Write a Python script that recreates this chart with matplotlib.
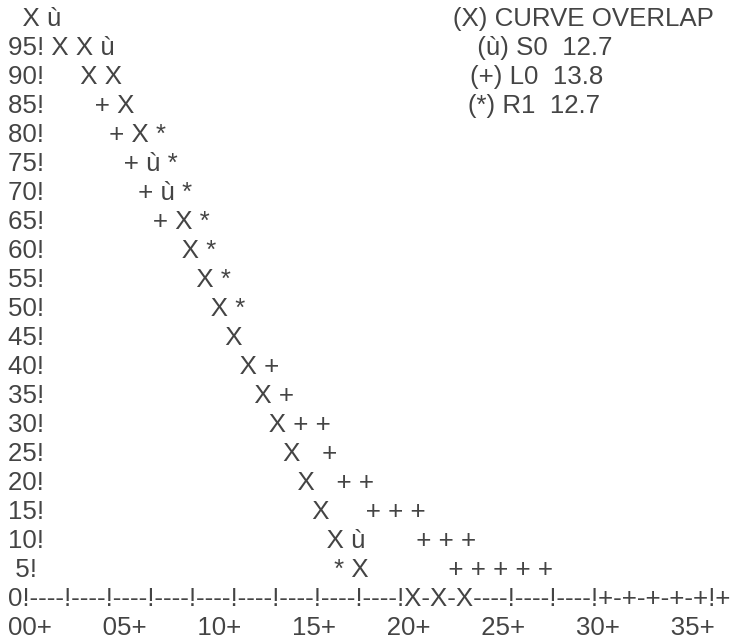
import matplotlib
matplotlib.use("Agg")
import matplotlib.pyplot as plt

# ---------------- data ----------------
x_values = list(range(39))
series_names = ["S0", "L0", "R1"]
series_symbols = ["ù", "+", "*"]
series_medians = [12.7, 13.8, 12.7]
s0_values = [100, 100, 95, 95, 90, 85, 80, 75, 70, 65, 60, 55, 50, 45, 40, 35, 30,
             25, 20, 15, 10, 10, 5, 0, 0, 0]
l0_values = [100, 95, 95, 90, 85, 80, 75, 70, 65, 65, 60, 55, 50, 45, 40, 40, 35,
             30, 30, 25, 20, 20, 15, 15, 15, 10, 10, 10, 5, 5, 5, 5, 5, 0, 0, 0, 0, 0, 0]
r1_values = [100, 95, 95, 90, 90, 85, 80, 80, 75, 70, 65, 60, 55, 50, 40, 35, 30,
             25, 20, 15, 10, 5, 5, 0, 0, 0]
overlap_symbol = "X"
overlap_label = "CURVE OVERLAP"
y_levels = list(range(100, -1, -5))
x_tick_values = list(range(0, 36, 5))

series_values = [s0_values, l0_values, r1_values]

# ---------------- character grid ----------------
COLS_PER_UNIT = 2
AXIS_END = 76
LEGEND_COL = 59

marks = {}
for sym, vals in zip(series_symbols, series_values):
    for x, y in zip(x_values, vals):
        marks.setdefault((y, x), []).append(sym)


def mark_char(lst):
    return overlap_symbol if len(lst) > 1 else lst[0]


legend_lines = [f"({overlap_symbol}) {overlap_label}"] + [
    f"({s}) {n}  {m}" for s, n, m in zip(series_symbols, series_names, series_medians)
]

lines = []
for i, y in enumerate(y_levels):
    if y == 0:
        prefix = "0"
        grid = ["!" if g % 5 == 0 else "-" for g in range(AXIS_END + 1)]
    else:
        prefix = "  " if y == 100 else f"{y:2d}"
        grid = [" "] * (AXIS_END + 1)
        if y != 100:
            grid[0] = "!"
    for x in x_values:
        if (y, x) in marks:
            grid[COLS_PER_UNIT * x] = mark_char(marks[(y, x)])
    line = (prefix + "".join(grid)).rstrip()
    if i < len(legend_lines):
        line = line.ljust(LEGEND_COL) + legend_lines[i]
    lines.append((y, line))

tick_chars = [" "] * (COLS_PER_UNIT * max(x_tick_values) + 3)
for xt in x_tick_values:
    lab = f"{xt:02d}+"
    c = COLS_PER_UNIT * xt
    for k, ch in enumerate(lab):
        tick_chars[c + k] = ch
tick_line = "".join(tick_chars).rstrip()

# ---------------- drawing ----------------
fig = plt.figure(figsize=(7.35, 6.42), dpi=100)
fig.patch.set_facecolor("white")
ax = fig.add_axes([0, 0, 1, 1])
ax.set_xlim(0, 1)
ax.set_ylim(-7.41, 103.28)
ax.axis("off")

FS = 18.6
COLOR = "#444444"
X0 = 8 / 735
for y, line in lines:
    ax.text(X0, y, line, fontsize=FS, family="Liberation Sans", color=COLOR,
            ha="left", va="center")
ax.text(X0, -5, tick_line, fontsize=FS, family="Liberation Sans", color=COLOR,
        ha="left", va="center")

fig.savefig("out.png", dpi=100, facecolor="white")
